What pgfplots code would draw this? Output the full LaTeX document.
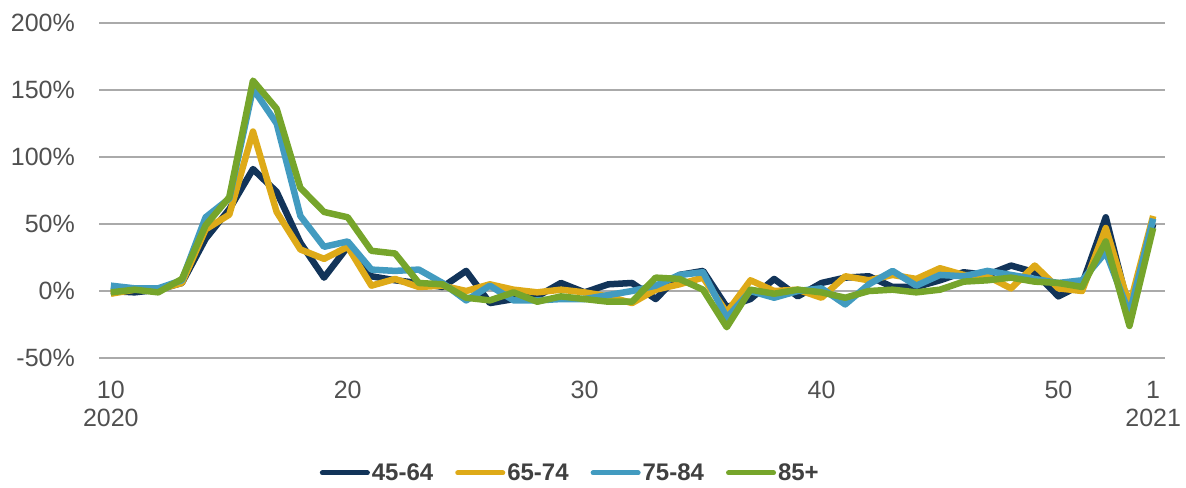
\documentclass[border=0pt]{standalone}
\usepackage{fontspec}
\setmainfont{Liberation Sans}
\usepackage{pgfplots}
\pgfplotsset{compat=1.18}

\definecolor{navy}{RGB}{18,52,89}
\definecolor{gold}{RGB}{222,170,24}
\definecolor{sky}{RGB}{66,155,192}
\definecolor{leaf}{RGB}{118,165,43}
\definecolor{gridgray}{RGB}{170,170,170}
\definecolor{tickgray}{RGB}{80,80,80}
\definecolor{leggray}{RGB}{64,64,64}

% weeks 10..53 of 2020 and week 1 of 2021, plotted at 0..44
\pgfplotstableread{
i  a    b    c    d
0  0    -2   4    -1
1  -1   1    2    1
2  1    1    2    -1
3  6    6    8    9
4  39   46   55   49
5  61   57   69   70
6  91   119  151  157
7  74   59   125  136
8  36   31   56   77
9  10   24   33   59
10 33   33   37   55
11 11   4    16   30
12 8    9    15   28
13 6    3    16   6
14 3    4    6    5
15 15   0    -7   -5
16 -9   5    4    -7
17 -6   1    -7   -1
18 -4   -1   -7   -8
19 6    1    -6   -4
20 -1   -1   -6   -6
21 5    -4   -3   -8
22 6    -9   0    -8
23 -6   1    4    10
24 12   5    12   9
25 15   10   14   1
26 -12  -16  -20  -27
27 -6   8    0    1
28 9    0    -5   -2
29 -4   1    0    1
30 6    -5   2    -1
31 10   11   -10  -5
32 11   8    5    0
33 3    12   15   1
34 3    9    4    -1
35 8    17   12   1
36 14   12   11   7
37 12   11   15   8
38 19   2    12   10
39 14   19   9    7
40 -4   2    6    6
41 5    0    8    3
42 55   47   29   37
43 -15  -11  -17  -26
44 50   56   54   47
}\data

\begin{document}
\begin{tikzpicture}
\begin{axis}[
  scale only axis,
  width=1066bp, height=335bp,
  xmin=-0.5, xmax=44.5,
  ymin=-50, ymax=200,
  axis line style={draw=none},
  major tick length=0pt,
  ytick={-50,0,50,100,150,200},
  yticklabels={-50\%,0\%,50\%,100\%,150\%,200\%},
  xtick={0,10,20,30,40,44},
  xticklabels={10\\2020,20,30,40,50,1\\2021},
  ymajorgrids,
  grid style={draw=gridgray, line width=1.3bp},
  tick label style={font=\fontsize{25bp}{28bp}\selectfont, text=tickgray},
  xticklabel style={align=center, inner ysep=0pt, yshift=-23bp},
  yticklabel style={inner xsep=0pt, xshift=-24bp},
  every axis plot/.append style={line width=6.5bp, line join=round},
  legend style={at={(0.207,-0.343)}, anchor=west, draw=none, inner sep=0pt,
    legend columns=4, font=\bfseries\fontsize{24bp}{28bp}\selectfont,
    text=leggray,
    nodes={inner xsep=2bp},
    /tikz/every even column/.append style={column sep=20bp}},
  legend image code/.code={\draw[#1, line width=5bp, line cap=round]
    (2.5bp,0bp) -- (47.5bp,0bp);},
]
\addplot[navy] table[x=i, y=a] {\data};
\addplot[gold] table[x=i, y=b] {\data};
\addplot[sky]  table[x=i, y=c] {\data};
\addplot[leaf] table[x=i, y=d] {\data};
\legend{45-64, 65-74, 75-84, 85+}
\coordinate (sw) at (rel axis cs:0,0);
\coordinate (ne) at (rel axis cs:1,1);
\end{axis}
\pgfresetboundingbox
\path[use as bounding box] ([shift={(-99bp,-129bp)}]sw) rectangle ([shift={(21bp,23bp)}]ne);
\end{tikzpicture}
\end{document}
